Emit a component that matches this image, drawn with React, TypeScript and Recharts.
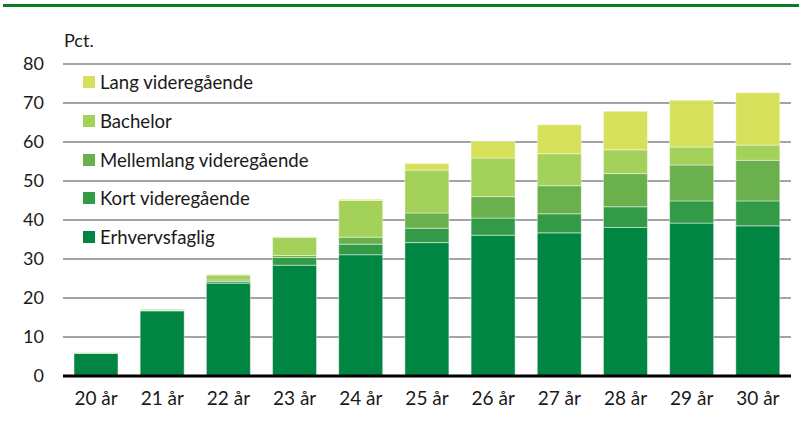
import React from "react";
import { BarChart, Bar, CartesianGrid, XAxis, YAxis } from "recharts";

const ages = ["20 år", "21 år", "22 år", "23 år", "24 år", "25 år", "26 år", "27 år", "28 år", "29 år", "30 år"];
const erhvervsfaglig = [5.8, 16.7, 23.8, 28.4, 31.1, 34.2, 36.1, 36.7, 38.1, 39.2, 38.5];
const kortVideregaaende = [0.1, 0.1, 0.4, 2.0, 2.7, 3.7, 4.4, 4.9, 5.3, 5.7, 6.4];
const mellemlangVideregaaende = [0, 0.1, 0.4, 0.5, 1.8, 3.9, 5.5, 7.2, 8.5, 9.2, 10.4];
const bachelor = [0.1, 0.2, 1.3, 4.7, 9.4, 11.0, 9.9, 8.2, 6.1, 4.6, 3.9];
const langVideregaaende = [0, 0, 0.1, 0.1, 0.3, 1.7, 4.3, 7.4, 9.9, 12.0, 13.4];
const yTicks = [0, 10, 20, 30, 40, 50, 60, 70, 80];

const series = [
  { key: "erhverv", name: "Erhvervsfaglig", color: "#008542" },
  { key: "kort", name: "Kort videregående", color: "#339a48" },
  { key: "mellem", name: "Mellemlang videregående", color: "#6ab04c" },
  { key: "bachelor", name: "Bachelor", color: "#a3d15a" },
  { key: "lang", name: "Lang videregående", color: "#d6e05a" },
];

const data = ages.map((age, i) => ({
  age,
  erhverv: erhvervsfaglig[i],
  kort: kortVideregaaende[i],
  mellem: mellemlangVideregaaende[i],
  bachelor: bachelor[i],
  lang: langVideregaaende[i],
}));

const FONT = "Lato, 'Open Sans', sans-serif";

// legend drawn on top of the plot, top series first
const LegendBox = () => (
  <div style={{ position: "absolute", left: 83, top: 63, fontFamily: FONT, fontSize: 18.6, color: "#1a1a1a" }}>
    {[...series].reverse().map((s) => (
      <div key={s.key} style={{ display: "flex", alignItems: "center", height: 38.7, whiteSpace: "nowrap" }}>
        <span style={{ width: 12, height: 12, background: s.color, marginRight: 5, display: "inline-block" }} />
        <span>{s.name}</span>
      </div>
    ))}
  </div>
);

const App: React.FC = () => {
  return (
    <div style={{ position: "absolute", left: 0, top: 0, width: 802, height: 421, background: "#fff" }}>
      <div style={{ position: "absolute", left: 3, right: 3, top: 4, height: 3, background: "#0a7d1e" }} />
      <div style={{ position: "absolute", left: 64, top: 29, fontFamily: FONT, fontSize: 18, color: "#1a1a1a" }}>
        Pct.
      </div>
      <BarChart
        width={802}
        height={421}
        data={data}
        margin={{ top: 64, right: 11, bottom: 0, left: 0 }}
        barSize={44}
      >
        <CartesianGrid vertical={false} stroke="#a3a3a3" strokeWidth={2} />
        <XAxis
          dataKey="age"
          interval={0}
          axisLine={{ stroke: "#000", strokeWidth: 3 }}
          tickLine={false}
          tickSize={0}
          tickMargin={16}
          height={45}
          tick={{ fill: "#1a1a1a", fontSize: 19, fontFamily: FONT }}
        />
        <YAxis
          domain={[0, 80]}
          ticks={yTicks}
          axisLine={false}
          tickLine={false}
          tickSize={0}
          tickMargin={19}
          width={63}
          tick={{ fill: "#1a1a1a", fontSize: 18, fontFamily: FONT }}
        />
        {series.map((s) => (
          <Bar
            key={s.key}
            dataKey={s.key}
            name={s.name}
            stackId="a"
            fill={s.color}
            stroke="rgba(255,255,255,0.45)"
            strokeWidth={1}
            isAnimationActive={false}
          />
        ))}
      </BarChart>
      <LegendBox />
    </div>
  );
};

export default App;
